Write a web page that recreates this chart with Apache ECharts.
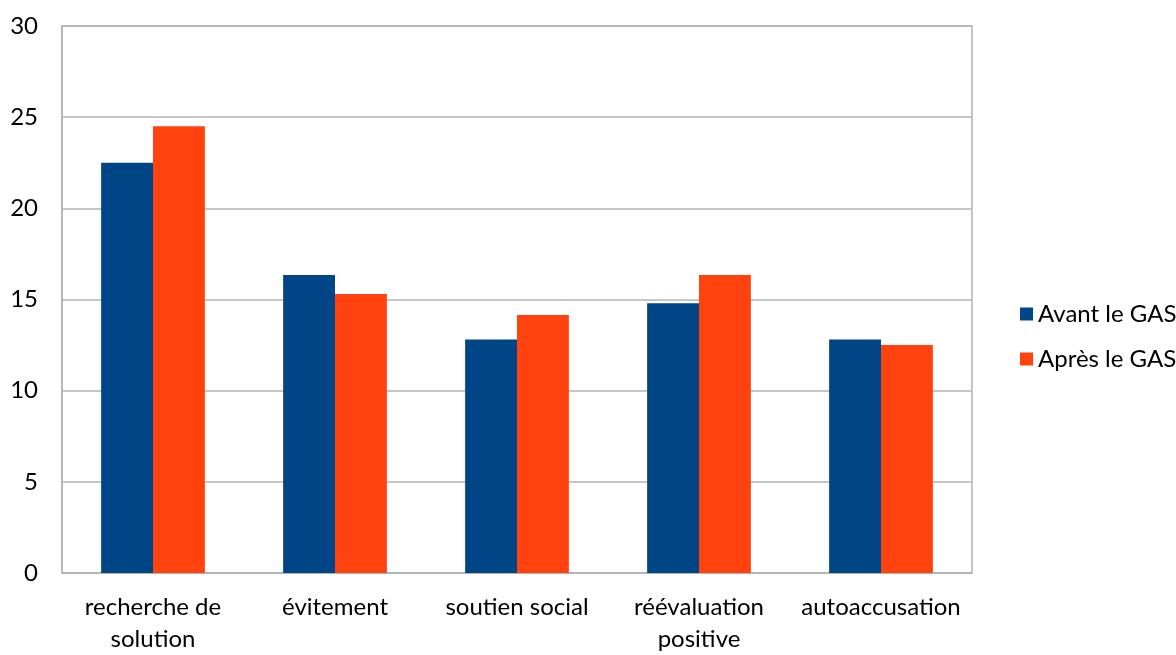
<!DOCTYPE html>
<html>
<head>
<meta charset="utf-8">
<script src="https://cdn.jsdelivr.net/npm/echarts@6/dist/echarts.min.js"></script>
<style>html,body{margin:0;padding:0;background:#fff}#c{width:1176px;height:655px}</style>
</head>
<body>
<div id="c"></div>
<script>
const categories = ['recherche de\nsolution', 'évitement', 'soutien social', 'réévaluation\npositive', 'autoaccusation'];
const seriesNames = ['Avant le GAS', 'Après le GAS'];
const avant = [22.5, 16.35, 12.8, 14.8, 12.8];
const apres = [24.5, 15.3, 14.15, 16.35, 12.5];
const yTicks = [0, 5, 10, 15, 20, 25, 30];

const chart = echarts.init(document.getElementById('c'), null, {renderer: 'canvas'});
const font = 'Lato, "Open Sans", sans-serif';
chart.setOption({
  animation: false,
  textStyle: {fontFamily: font},
  grid: {left: 62, top: 26, right: 204, bottom: 77, show: true, borderColor: '#b3b3b3', borderWidth: 1.5, backgroundColor: 'transparent'},
  legend: {
    orient: 'vertical', left: 1015, top: 297, itemWidth: 13, itemHeight: 13, itemGap: 21,
    icon: 'rect',
    textStyle: {fontSize: 24, color: '#000', fontFamily: font, padding: [0, 0, 0, 0]},
    data: seriesNames
  },
  xAxis: {
    type: 'category', data: categories,
    axisLine: {lineStyle: {color: '#b3b3b3', width: 1.5}},
    axisTick: {show: false},
    axisLabel: {fontSize: 24, color: '#000', lineHeight: 32, margin: 18, interval: 0, fontFamily: font}
  },
  yAxis: {
    type: 'value', min: yTicks[0], max: yTicks[yTicks.length - 1], interval: 5,
    axisLine: {show: true, lineStyle: {color: '#b3b3b3', width: 1.5}},
    axisTick: {show: false},
    splitLine: {lineStyle: {color: '#b3b3b3', width: 1.5}},
    axisLabel: {fontSize: 24, color: '#000', margin: 24, fontFamily: font}
  },
  series: [
    {name: seriesNames[0], type: 'bar', data: avant, itemStyle: {color: '#004586'}, barGap: '0%', barCategoryGap: '43%'},
    {name: seriesNames[1], type: 'bar', data: apres, itemStyle: {color: '#ff420e'}, barGap: '0%', barCategoryGap: '43%'}
  ]
});
</script>
</body>
</html>
